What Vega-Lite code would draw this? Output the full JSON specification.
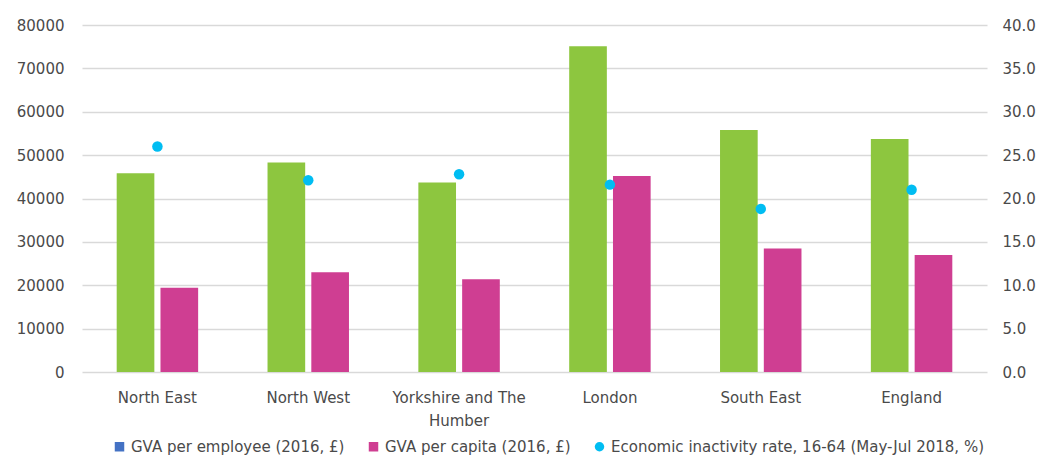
{
  "$schema": "https://vega.github.io/schema/vega-lite/v6.json",
  "autosize": {"type": "fit", "contains": "padding"},
  "width": 1044,
  "height": 458,
  "padding": {"left": 16, "top": 18, "right": 8, "bottom": 30},
  "config": {
    "view": {"stroke": null},
    "font": "DejaVu Sans",
    "axis": {"labelFont": "DejaVu Sans", "labelFontSize": 15, "labelColor": "#4a4a4a", "domain": false, "ticks": false, "gridColor": "#d9d9d9", "gridWidth": 1.5},
    "legend": {"labelFont": "DejaVu Sans", "labelFontSize": 15, "labelColor": "#4a4a4a"}
  },
  "datasets": {
    "bars": [
      {"region": "North East", "series": "GVA per employee (2016, £)", "value": 45800},
      {"region": "North East", "series": "GVA per capita (2016, £)", "value": 19400},
      {"region": "North West", "series": "GVA per employee (2016, £)", "value": 48300},
      {"region": "North West", "series": "GVA per capita (2016, £)", "value": 23000},
      {"region": "Yorkshire and The Humber", "series": "GVA per employee (2016, £)", "value": 43700},
      {"region": "Yorkshire and The Humber", "series": "GVA per capita (2016, £)", "value": 21400},
      {"region": "London", "series": "GVA per employee (2016, £)", "value": 75100},
      {"region": "London", "series": "GVA per capita (2016, £)", "value": 45200},
      {"region": "South East", "series": "GVA per employee (2016, £)", "value": 55800},
      {"region": "South East", "series": "GVA per capita (2016, £)", "value": 28500},
      {"region": "England", "series": "GVA per employee (2016, £)", "value": 53700},
      {"region": "England", "series": "GVA per capita (2016, £)", "value": 27000}
    ],
    "rates": [
      {"region": "North East", "rate": 26.0},
      {"region": "North West", "rate": 22.1},
      {"region": "Yorkshire and The Humber", "rate": 22.8},
      {"region": "London", "rate": 21.6},
      {"region": "South East", "rate": 18.8},
      {"region": "England", "rate": 21.0}
    ],
    "legend": [
      {"item": "GVA per employee (2016, £)"},
      {"item": "GVA per capita (2016, £)"},
      {"item": "Economic inactivity rate, 16-64 (May-Jul 2018, %)"}
    ]
  },
  "layer": [
    {
      "data": {"name": "bars"},
      "mark": {"type": "bar"},
      "encoding": {
        "x": {
          "field": "region", "type": "nominal", "sort": null, "title": null,
          "scale": {"paddingInner": 0.46, "paddingOuter": 0.23},
          "axis": {"labelAngle": 0, "labelPadding": 18, "grid": false, "labelLineHeight": 23,
            "labelExpr": "datum.value == 'Yorkshire and The Humber' ? ['Yorkshire and The', 'Humber'] : datum.value"}
        },
        "xOffset": {"field": "series", "type": "nominal", "sort": null, "scale": {"paddingInner": 0.14}},
        "y": {"field": "value", "type": "quantitative", "title": null,
          "scale": {"domain": [0, 80000]},
          "axis": {"values": [0, 10000, 20000, 30000, 40000, 50000, 60000, 70000, 80000], "labelPadding": 18, "format": "d"}},
        "color": {"field": "series", "type": "nominal", "sort": null,
          "scale": {"domain": ["GVA per employee (2016, £)", "GVA per capita (2016, £)"], "range": ["#8DC63F", "#CF3E92"]},
          "legend": null}
      }
    },
    {
      "data": {"name": "rates"},
      "mark": {"type": "point", "filled": true, "opacity": 1, "size": 110, "color": "#00BDF2"},
      "encoding": {
        "x": {"field": "region", "type": "nominal", "sort": null},
        "y": {"field": "rate", "type": "quantitative", "title": null,
          "scale": {"domain": [0, 40]},
          "axis": {"orient": "right", "values": [0, 5, 10, 15, 20, 25, 30, 35, 40], "format": ".1f", "labelPadding": 15, "grid": false}}
      }
    },
    {
      "data": {"name": "legend"},
      "mark": {"type": "point", "filled": true, "size": 0, "opacity": 1},
      "encoding": {
        "color": {"field": "item", "type": "nominal", "sort": null, "title": null,
          "scale": {"domain": ["GVA per employee (2016, £)", "GVA per capita (2016, £)", "Economic inactivity rate, 16-64 (May-Jul 2018, %)"], "range": ["#4472C4", "#CF3E92", "#00BDF2"]},
          "legend": {"orient": "none", "legendX": 30, "legendY": 414, "direction": "horizontal", "symbolOpacity": 1, "symbolSize": 90, "columnPadding": 20, "labelLimit": 600, "labelOffset": 4}},
        "shape": {"field": "item", "type": "nominal", "sort": null,
          "scale": {"domain": ["GVA per employee (2016, £)", "GVA per capita (2016, £)", "Economic inactivity rate, 16-64 (May-Jul 2018, %)"], "range": ["square", "square", "circle"]}}
      }
    }
  ],
  "resolve": {"scale": {"y": "independent", "color": "independent", "shape": "independent"}}
}
